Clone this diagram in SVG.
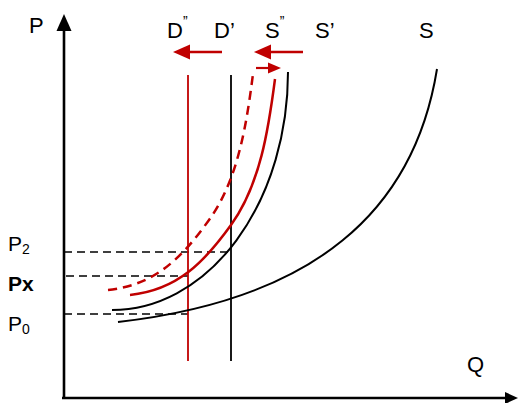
<svg xmlns="http://www.w3.org/2000/svg" width="518" height="403" viewBox="0 0 518 403">
<style>
text{font-family:"Liberation Sans",Arial,sans-serif;fill:#000}
.lbl{font-size:22px}
.tk{font-size:21px}
.sub{font-size:14px}
.sup{font-size:14px}
.dash{stroke:#000;stroke-width:1.6;stroke-dasharray:8 5;fill:none}
.blk{stroke:#000;stroke-width:2;fill:none}
.red{stroke:#C00000;stroke-width:2.5;fill:none}
.vr{stroke:#C00000;stroke-width:1.8;fill:none}
.vb{stroke:#000;stroke-width:1.8;fill:none}
.ax{stroke:#000;stroke-width:2.6;fill:none}
.arr{stroke:#C00000;stroke-width:2.5;fill:none}
.head{fill:#C00000}
</style>
<g id="axes">
<line class="ax" x1="64" y1="399" x2="64" y2="30"/>
<path d="M64,14 L56.5,31 L71.5,31 Z" fill="#000"/>
<line class="ax" x1="62" y1="398" x2="506" y2="398"/>
<path d="M518,398 L505,392 L505,404 Z" fill="#000"/>
<text class="lbl" x="29" y="33">P</text>
<text class="lbl" x="467" y="372">Q</text>
</g>
<g id="guides">
<line class="dash" x1="64" y1="252" x2="231" y2="252"/>
<line class="dash" x1="66" y1="276" x2="188" y2="276"/>
<line class="dash" x1="64" y1="314" x2="188" y2="314"/>
</g>
<g id="tick-labels">
<text class="tk" x="8" y="251">P<tspan class="sub" dy="3">2</tspan></text>
<text class="tk" x="8" y="291" font-weight="bold">Px</text>
<text class="tk" x="8" y="331">P<tspan class="sub" dy="3">0</tspan></text>
</g>
<g id="D2">
<line class="vr" x1="188" y1="75" x2="188" y2="361"/>
<text class="lbl" x="167" y="38">D<tspan class="sup" dy="-12">”</tspan></text>
</g>
<g id="D1">
<line class="vb" x1="231" y1="75" x2="231" y2="361"/>
<text class="lbl" x="214" y="38">D’</text>
</g>
<g id="S">
<path class="blk" d="M118,322 C314,299.6 414,211.6 437,69"/>
<text class="lbl" x="419" y="38">S</text>
</g>
<g id="S1">
<path class="blk" d="M112,310 A176,238 0 0 0 288,72"/>
<text class="lbl" x="315" y="38">S’</text>
</g>
<g id="S2">
<path class="red" d="M130,295 C178,290 204.7,261.5 231,225 C260.3,184.5 268.6,128.6 275,79"/>
<text class="lbl" x="265" y="38">S<tspan class="sup" dy="-12">”</tspan></text>
</g>
<g id="S2-expected">
<path class="red" stroke-dasharray="9 6" transform="translate(-22,-5)" d="M130,295 C178,290 204.7,261.5 231,225 C260.3,184.5 268.6,128.6 275,79"/>
</g>
<g id="connectors">
<line class="arr" x1="222" y1="52" x2="189" y2="52"/>
<path class="head" d="M173,52 L190,44.5 L190,59.5 Z"/>
<line class="arr" x1="303" y1="52" x2="270" y2="52"/>
<path class="head" d="M254,52 L271,44.5 L271,59.5 Z"/>
<line x1="256" y1="68" x2="269" y2="68" stroke="#C00000" stroke-width="2.2"/>
<path class="head" d="M281,68 L268,62.5 L268,73.5 Z"/>
</g>
</svg>
